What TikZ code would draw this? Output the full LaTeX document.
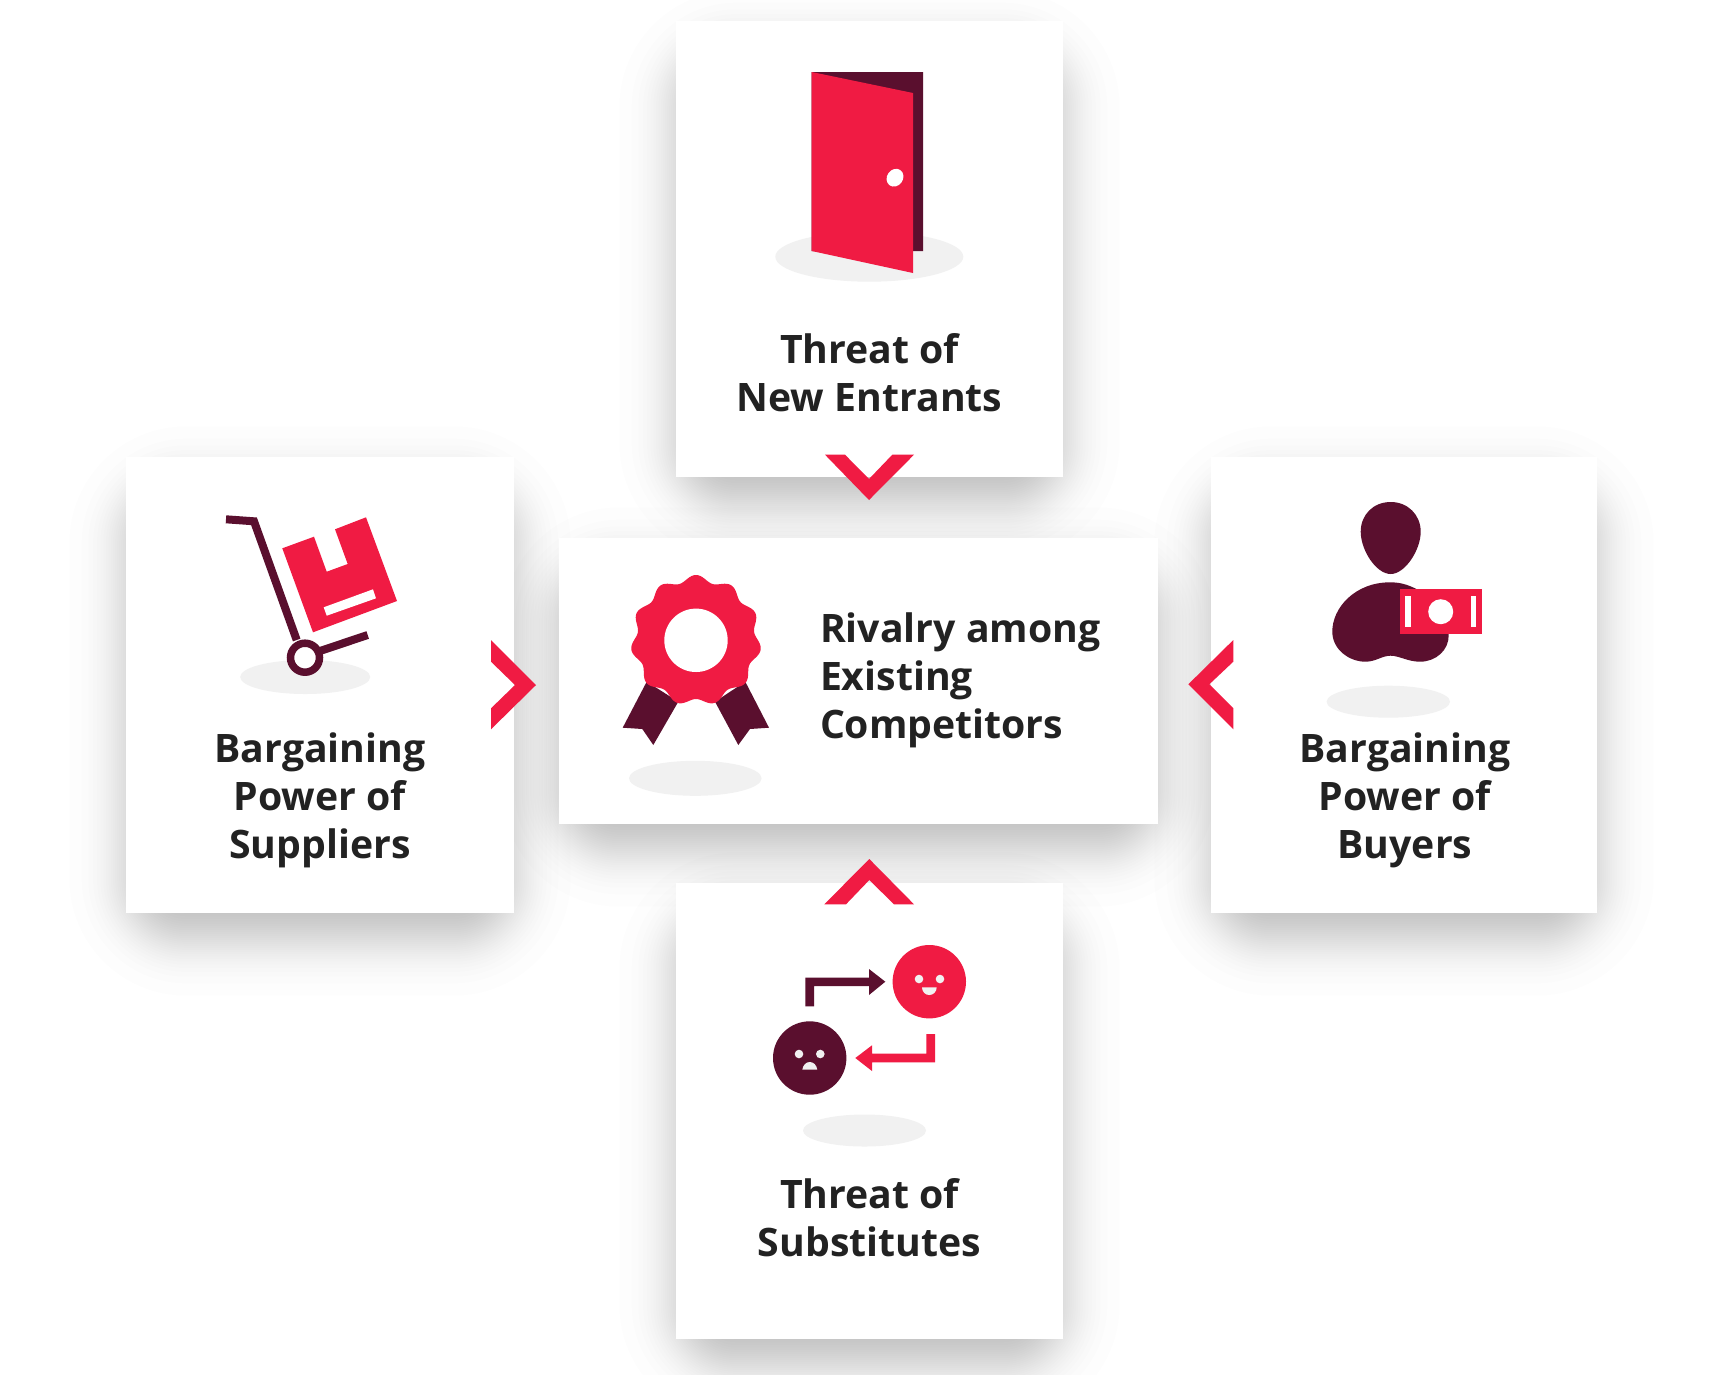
\documentclass[tikz,border=0pt]{standalone}
\usepackage{fontspec}
\setmainfont{Open Sans}
\definecolor{brandred}{HTML}{F01B43}
\definecolor{branddark}{HTML}{5A0F2E}
\definecolor{floorgray}{HTML}{F1F1F1}
\definecolor{inkgray}{HTML}{222222}
\newcommand{\cardshadow}[4]{%
  \foreach \z in {-2.178,-1.705,-1.450,-1.265,-1.115,-.987,-.874,-.770,-.674,-.584,-.499,-.417,-.338,-.261,-.185,-.111,-.037,.037,.111,.185,.261,.338,.417,.499,.584,.674,.770,.874,.987,1.115,1.265,1.450,1.705,2.178}{%
    \pgfmathsetmacro{\dd}{\z*26}%
    \pgfmathsetmacro{\rr}{max(\dd+60,1)}%
    \fill[black,fill opacity=.00654,rounded corners=\rr pt] ({#1-\dd},{#2+26-\dd}) rectangle ({#3+\dd},{#4+26+\dd});
  }%
}
\tikzset{
  card/.style={fill=white,draw=none,inner sep=0pt,outer sep=0pt},
  cardlabel/.style={font=\fontsize{39.2}{48}\selectfont\bfseries,text=inkgray,inner sep=0pt,outer sep=0pt},
  floor/.style={fill=floorgray,draw=none},
  redshape/.style={fill=brandred,draw=none},
  darkshape/.style={fill=branddark,draw=none},
  darkline/.style={draw=branddark,line width=8pt,fill=none},
  hole/.style={fill=white,draw=none},
  facefeature/.style={fill=floorgray,draw=none}
}
\begin{document}
\begin{tikzpicture}[x=1pt,y=-1pt]
\useasboundingbox (0,0) rectangle (1718,1374);
\clip (0,0) rectangle (1718,1374);
\fill[white] (0,0) rectangle (1718,1374);
% shadows
\cardshadow{676}{21}{1063}{477}
\cardshadow{126}{457}{514}{913}
\cardshadow{1211}{457}{1597}{913}
\cardshadow{676}{883}{1063}{1339}
\cardshadow{559}{538}{1158}{824}
% cards
\node[card,minimum width=387pt,minimum height=456pt] (topcard) at (869.5,249) {};
\node[card,minimum width=388pt,minimum height=456pt] (leftcard) at (320,685) {};
\node[card,minimum width=386pt,minimum height=456pt] (rightcard) at (1404,685) {};
\node[card,minimum width=387pt,minimum height=456pt] (bottomcard) at (869.5,1111) {};
\node[card,minimum width=599pt,minimum height=286pt] (centercard) at (858.5,681) {};
% labels
\node[cardlabel,align=center,anchor=base] (toplabel) at (869.5,411) {Threat of\\New Entrants};
\node[cardlabel,align=center,anchor=base] (leftlabel) at (320,858) {Bargaining\\Power of\\Suppliers};
\node[cardlabel,align=center,anchor=base] (rightlabel) at (1405,858) {Bargaining\\Power of\\Buyers};
\node[cardlabel,align=center,anchor=base] (bottomlabel) at (869.5,1256) {Threat of\\Substitutes};
\node[cardlabel,align=left,anchor=base west] (centerlabel) at (820,738) {Rivalry among\\Existing\\Competitors};
% door
\fill[floor] (869.3,256.7) ellipse [x radius=94,y radius=25];
\fill[darkshape] (811.7,72) -- (923,72) -- (923,251) -- (913,251) -- (811.7,251) -- cycle;
\fill[redshape] (811.7,72) -- (913,93) -- (913,273) -- (811.7,251) -- cycle;
\fill[hole,rotate around={-35:(895,177.7)}] (895,177.7) ellipse [x radius=8,y radius=9.3];
% hand truck
\fill[floor] (305.2,677) ellipse [x radius=65,y radius=17];
\draw[darkline,line join=miter] (226,519.3) -- (254,521.3) -- (296.7,640);
\draw[darkline] (320,651) -- (367.7,635);
\draw[draw=branddark,line width=7.5pt,fill=white] (305,657.7) circle [radius=14.5];
\fill[redshape] (282.3,548.3) -- (314,536.7) -- (326.7,571.7) -- (347.7,564) -- (335,529.3) -- (366,517.3) -- (397,601) -- (313,632.3) -- cycle;
\fill[hole] (323.7,607.3) -- (373,589.3) -- (376,598.3) -- (326.7,615.7) -- cycle;
% rosette
\fill[floor] (695.3,778.3) ellipse [x radius=66.3,y radius=17.5];
\fill[darkshape] (646.7,681.7) -- (678.3,701.7) -- (653.3,745) -- (642.3,729) -- (622.7,727.7) -- cycle;
\fill[darkshape] (745.3,681.7) -- (715,701.7) -- (738.3,745) -- (750,729) -- (769,727.7) -- cycle;
\begin{scope}[shift={(696,640.3)}]
\fill[redshape] plot[domain=0:360,samples=331] (\x:{62+3.3*cos(11*(\x+90))}) -- cycle;
\fill[hole] (0,0) circle [radius=31.7];
\end{scope}
% buyer
\fill[floor] (1388.3,701.7) ellipse [x radius=61.7,y radius=16];
\fill[darkshape] (1390.7,502) .. controls (1408,502) and (1420.7,515) .. (1420.7,531.7) .. controls (1420.7,550) and (1405,574) .. (1390.7,574) .. controls (1376,574) and (1360.7,550) .. (1360.7,531.7) .. controls (1360.7,515) and (1373,502) .. (1390.7,502) -- cycle;
\fill[darkshape] (1390.7,582.3) .. controls (1355,582) and (1332,608) .. (1332.3,632) .. controls (1332.5,650) and (1350,662) .. (1366,661.7) .. controls (1376,661.5) and (1382,655.7) .. (1390.7,655.7) .. controls (1399,655.7) and (1408,661.7) .. (1420,661.7) .. controls (1436,661.7) and (1449,650) .. (1448.7,635) .. controls (1448,610) and (1420,582) .. (1390.7,582.3) -- cycle;
\fill[redshape] (1399.7,589.3) rectangle (1481.7,634);
\fill[hole] (1405.3,596) rectangle (1410.7,627.3);
\fill[hole] (1471,596) rectangle (1476.3,627.3);
\fill[hole] (1440.7,611.7) circle [radius=12.5];
% substitutes
\fill[floor] (864.5,1130.5) ellipse [x radius=61.5,y radius=16];
\fill[redshape] (929.3,981.7) circle [radius=36.7];
\fill[facefeature] (919,979) circle [radius=4.3];
\fill[facefeature] (940,979) circle [radius=4.3];
\fill[facefeature] (922,987.3) -- (936.7,987.3) .. controls (936.7,992) and (933,995) .. (929.3,995) .. controls (925.5,995) and (922,992) .. (922,987.3) -- cycle;
\fill[darkshape] (809.7,1058) circle [radius=36.7];
\fill[facefeature] (799,1054) circle [radius=4.3];
\fill[facefeature] (820.3,1054) circle [radius=4.3];
\fill[facefeature] (802.3,1069.7) .. controls (803,1065) and (806,1062) .. (809.8,1062) .. controls (813.5,1062) and (816.6,1065) .. (817.3,1069.7) -- cycle;
\fill[darkshape] (805.3,1006.3) -- (805.3,977.7) -- (869,977.7) -- (869,969) -- (885.3,981.7) -- (869,995) -- (869,986) -- (814,986) -- (814,1006.3) -- cycle;
\fill[redshape] (935,1034) -- (935,1062.3) -- (872,1062.3) -- (872,1071) -- (855.3,1058) -- (872,1045.3) -- (872,1053.7) -- (926.3,1053.7) -- (926.3,1034) -- cycle;
% chevrons
\fill[redshape] (825,454.7) -- (845,454.7) -- (869,479) -- (892.3,454.7) -- (914,454.7) -- (869,500) -- cycle;
\fill[redshape] (491,640) -- (536,685) -- (491,729.3) -- (491,708.3) -- (515,685) -- (491,661.7) -- cycle;
\fill[redshape] (1233.3,640) -- (1188.3,684.3) -- (1233.3,729.3) -- (1233.3,708.3) -- (1209.3,684.3) -- (1233.3,661.7) -- cycle;
\fill[redshape] (869.3,859) -- (914,904.3) -- (894,904.3) -- (869.3,880) -- (846,904.3) -- (824.3,904.3) -- cycle;
\end{tikzpicture}
\end{document}
